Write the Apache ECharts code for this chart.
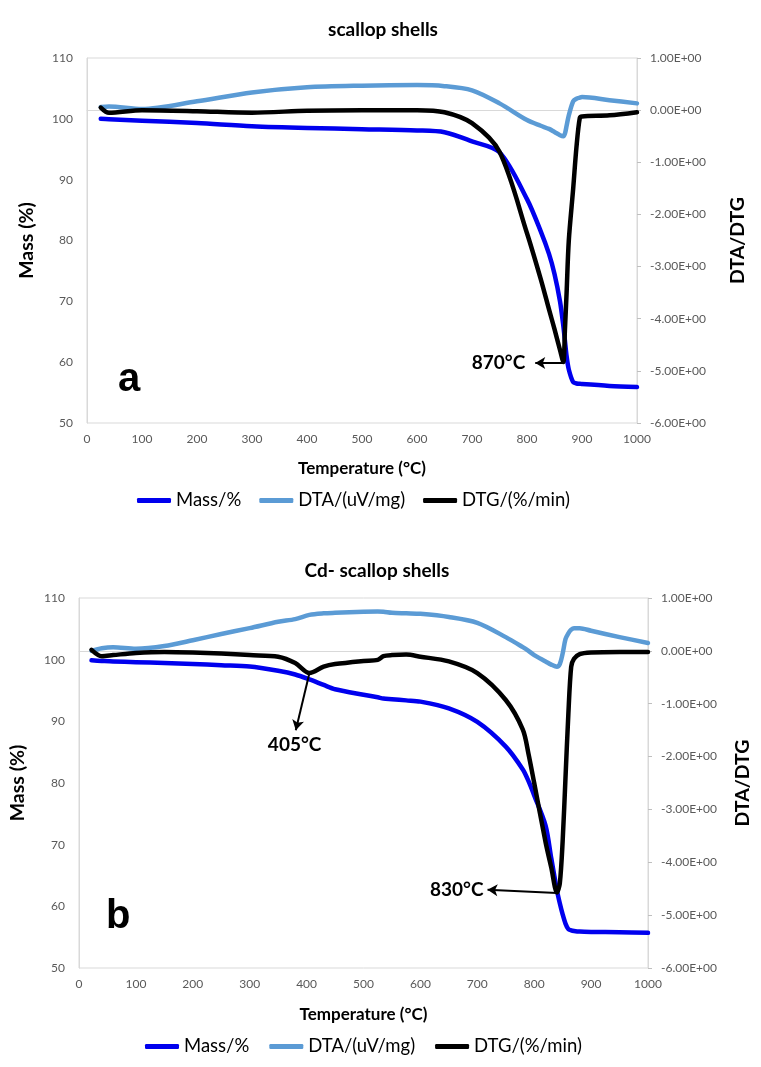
<!DOCTYPE html>
<html>
<head>
<meta charset="utf-8">
<script src="https://cdn.jsdelivr.net/npm/echarts@6/dist/echarts.min.js"></script>
<style>
  html, body { margin: 0; padding: 0; background: #fff; }
  #main { width: 761px; height: 1067px; }
</style>
</head>
<body>
<div id="main"></div>
<script>
// chart a: scallop shells
var tempA = [25, 40, 100, 200, 300, 400, 500, 600, 650, 700, 750, 800, 825, 840, 850, 860, 866, 869, 872, 876, 884, 890, 896, 900, 950, 1000];
var massA = [100.0, 99.95, 99.7, 99.3, 98.8, 98.5, 98.3, 98.1, 97.8, 96.3, 94.5, 86.8, 81.5, 77.8, 74.5, 70.0, 66.0, 63.5, 61.0, 58.8, 56.7, 56.5, 56.45, 56.4, 56.1, 55.9];
var dtaA  = [0.06, 0.07, 0.02, 0.17, 0.34, 0.44, 0.47, 0.48, 0.46, 0.38, 0.13, -0.19, -0.30, -0.36, -0.42, -0.48, -0.50, -0.45, -0.30, -0.10, 0.17, 0.22, 0.24, 0.25, 0.19, 0.13];
var dtgA  = [0.05, -0.05, 0.0, -0.02, -0.05, -0.01, 0.0, 0.0, -0.04, -0.25, -0.80, -2.36, -3.24, -3.82, -4.2, -4.6, -4.83, -4.2, -3.5, -2.5, -1.5, -0.7, -0.15, -0.12, -0.1, -0.04];

// chart b: Cd- scallop shells
var tempB = [22, 40, 60, 100, 150, 200, 250, 300, 350, 380, 405, 430, 450, 500, 525, 535, 550, 575, 600, 650, 700, 750, 780, 790, 800, 820, 830, 840, 845, 850, 855, 860, 865, 870, 880, 900, 950, 1000];
var massB = [99.9, 99.8, 99.7, 99.6, 99.45, 99.3, 99.1, 98.9, 98.2, 97.6, 96.8, 95.9, 95.2, 94.3, 93.9, 93.7, 93.6, 93.4, 93.2, 92.1, 89.9, 85.9, 82.2, 80.3, 78.0, 73.1, 67.8, 62.6, 60.5, 58.7, 57.2, 56.3, 56.1, 56.0, 55.9, 55.85, 55.8, 55.7];
var dtaB  = [0.0, 0.05, 0.07, 0.04, 0.09, 0.2, 0.32, 0.43, 0.55, 0.6, 0.68, 0.71, 0.72, 0.74, 0.745, 0.74, 0.72, 0.71, 0.70, 0.64, 0.53, 0.26, 0.07, 0.0, -0.08, -0.2, -0.26, -0.30, -0.25, -0.05, 0.22, 0.33, 0.40, 0.43, 0.43, 0.38, 0.26, 0.15];
var dtgB  = [0.02, -0.1, -0.08, -0.04, -0.02, -0.03, -0.05, -0.08, -0.11, -0.23, -0.42, -0.30, -0.25, -0.19, -0.17, -0.1, -0.08, -0.07, -0.11, -0.2, -0.42, -0.93, -1.49, -1.95, -2.5, -3.62, -4.1, -4.57, -4.4, -3.6, -2.4, -1.2, -0.3, -0.15, -0.06, -0.03, -0.02, -0.02];

var names = ['Mass/%', 'DTA/(uV/mg)', 'DTG/(%/min)'];
var colors = ['#0000ee', '#5b9bd5', '#000000'];

var font = 'Lato';
var chart = echarts.init(document.getElementById('main'));

function pairs(t, v) {
  return t.map(function (x, i) { return [x, v[i]]; });
}

function sci(v) {
  return v.toExponential(2).toUpperCase().replace(/E([+-])(\d)$/, 'E$10$2');
}

function xAx(idx, gap) {
  return {
    type: 'value', gridIndex: idx, min: 0, max: 1000, interval: 100,
    name: 'Temperature (°C)', nameLocation: 'middle', nameGap: gap,
    nameTextStyle: { fontFamily: font, fontSize: 17, fontWeight: 'bold', color: '#000' },
    axisLine: { show: true, lineStyle: { color: '#d9d9d9' } },
    axisTick: { show: false },
    splitLine: { show: false },
    axisLabel: { fontFamily: font, fontSize: 12, color: '#595959', margin: 10,
      formatter: function (v) { return String(v); } }
  };
}

function leftAx(idx, gap) {
  return {
    type: 'value', gridIndex: idx, position: 'left', min: 50, max: 110, interval: 10,
    name: 'Mass (%)', nameLocation: 'middle', nameGap: gap, nameRotate: 90,
    nameTextStyle: { fontFamily: font, fontSize: 19.5, fontWeight: 'bold', color: '#000' },
    axisLine: { show: true, lineStyle: { color: '#d9d9d9' } },
    axisTick: { show: false },
    splitLine: { show: false },
    axisLabel: { fontFamily: font, fontSize: 12, color: '#595959', margin: 14 }
  };
}

function rightAx(idx, gap) {
  return {
    type: 'value', gridIndex: idx, position: 'right', min: -6, max: 1, interval: 1,
    name: 'DTA/DTG', nameLocation: 'middle', nameGap: gap, nameRotate: 90,
    nameTextStyle: { fontFamily: font, fontSize: 19.5, fontWeight: 'bold', color: '#000' },
    axisLine: { show: true, lineStyle: { color: '#d9d9d9' } },
    axisTick: { show: true, length: 4, lineStyle: { color: '#bfbfbf' } },
    splitLine: { show: false },
    axisLabel: { fontFamily: font, fontSize: 12, color: '#595959', margin: 13, formatter: sci }
  };
}

function line(name, xi, yi, data, mark) {
  var c = colors[names.indexOf(name)];
  var s = {
    name: name, type: 'line', xAxisIndex: xi, yAxisIndex: yi,
    data: data, showSymbol: false, smooth: 0.3,
    lineStyle: { width: 4.5, color: c, cap: 'round', join: 'round' },
    itemStyle: { color: c }
  };
  if (mark) s.markLine = mark;
  return s;
}

// arrow annotations, drawn in data coords on the DTG axis
function arrows(list) {
  return {
    silent: true,
    symbol: ['none', 'arrow'],
    symbolSize: [9, 10],
    lineStyle: { color: '#000', width: 2, type: 'solid' },
    label: { show: true, position: 'end', fontFamily: font, fontSize: 19, fontWeight: 'bold', color: '#000' },
    data: list.map(function (a) {
      return [{ coord: a[0] }, { coord: a[1], label: { formatter: a[2], distance: a[3] } }];
    })
  };
}

function legend(top, left, gap) {
  return {
    top: top, left: left, data: names, itemWidth: 34, itemHeight: 5, itemGap: gap,
    icon: 'roundRect',
    textStyle: { fontFamily: font, fontSize: 18.5, color: '#000' }
  };
}

var option = {
  animation: false,
  title: [
    { text: 'scallop shells', left: 378, top: 15, textAlign: 'center',
      textStyle: { fontFamily: font, fontSize: 19, fontWeight: 'bold', color: '#000' } },
    { text: 'Cd- scallop shells', left: 372, top: 556, textAlign: 'center',
      textStyle: { fontFamily: font, fontSize: 19, fontWeight: 'bold', color: '#000' } }
  ],
  legend: [legend(486, 132, 18), legend(1032, 140, 20)],
  grid: [
    { left: 87, right: 124, top: 58, height: 365, show: true, borderColor: '#d9d9d9', borderWidth: 1 },
    { left: 66, right: 113, top: 598, height: 370, show: true, borderColor: '#d9d9d9', borderWidth: 1 }
  ],
  xAxis: [xAx(0, 37), xAx(1, 38)],
  yAxis: [leftAx(0, 50), rightAx(0, 91), leftAx(1, 51), rightAx(1, 85)],
  graphic: [
    { type: 'text', left: 118, top: 360, style: { text: 'a', fontFamily: 'Liberation Sans', fontSize: 40, fontWeight: 'bold', fill: '#000' } },
    { type: 'text', left: 106, top: 897, style: { text: 'b', fontFamily: 'Liberation Sans', fontSize: 40, fontWeight: 'bold', fill: '#000' } }
  ],
  series: [
    line('Mass/%', 0, 0, pairs(tempA, massA)),
    line('DTA/(uV/mg)', 0, 1, pairs(tempA, dtaA)),
    line('DTG/(%/min)', 0, 1, pairs(tempA, dtgA),
      arrows([[[866, -4.85], [815, -4.85], '870°C', 10]])),
    line('Mass/%', 1, 2, pairs(tempB, massB)),
    line('DTA/(uV/mg)', 1, 3, pairs(tempB, dtaB)),
    line('DTG/(%/min)', 1, 3, pairs(tempB, dtgB),
      arrows([
        [[405, -0.42], [381, -1.5], '405°C', 5],
        [[840, -4.58], [718, -4.52], '830°C', 4]
      ]))
  ]
};

chart.setOption(option);
</script>
</body>
</html>
